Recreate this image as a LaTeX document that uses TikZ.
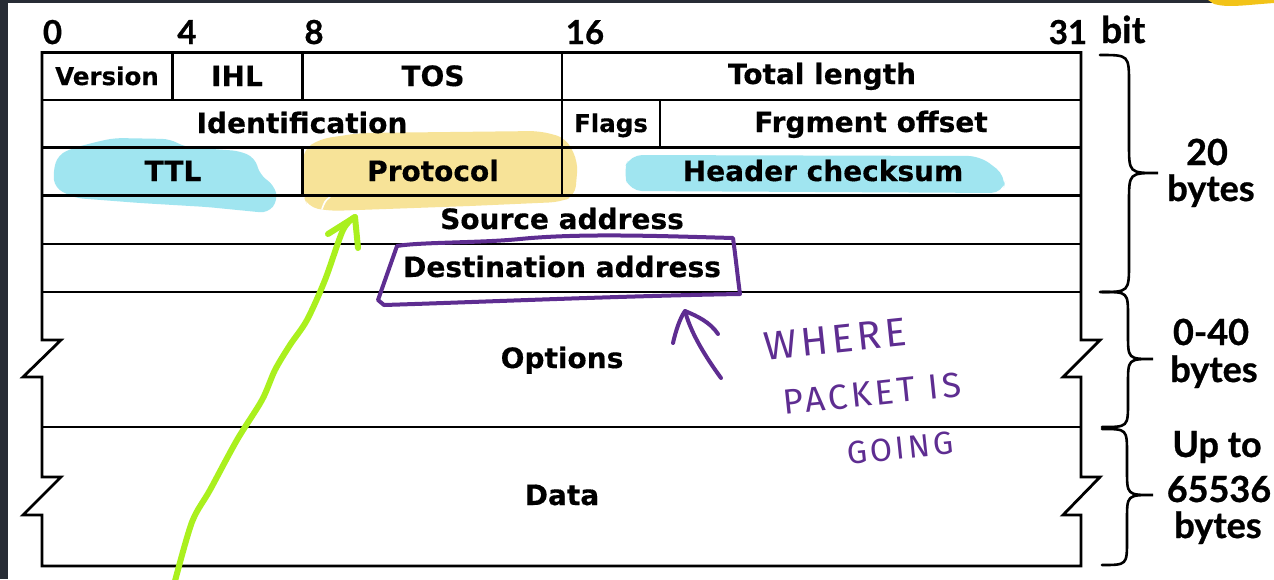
\documentclass[tikz,border=0pt]{standalone}
\usepackage{fontspec}
\setmainfont{DejaVu Sans}[BoldFeatures={FakeBold=0.4}]
\newfontfamily\latofont{Lato}[BoldFeatures={FakeBold=0.8}]
\newfontfamily\handfont{Fira Sans}[LetterSpace=10]
\usetikzlibrary{arrows.meta}

\definecolor{framedark}{HTML}{272C35}
\definecolor{hlcyan}{HTML}{A0E5F0}
\definecolor{hlyellow}{HTML}{F7E398}
\definecolor{inkpurple}{HTML}{5E2D91}
\definecolor{inkgreen}{HTML}{AAF01E}
\definecolor{tabyellow}{HTML}{F2C318}

\begin{document}
\begin{tikzpicture}[x=1pt,y=-1pt,
  rule/.style={line width=2.8pt, line join=miter},
  field/.style={font=\fontsize{28}{30}\selectfont\bfseries, anchor=base, inner sep=0pt},
  smallfield/.style={field, font=\fontsize{24.5}{28}\selectfont\bfseries},
  bitnum/.style={font=\latofont\fontsize{33}{36}\selectfont\bfseries, anchor=base, inner sep=0pt},
  sizelabel/.style={font=\latofont\fontsize{36}{40}\selectfont\bfseries, anchor=base, inner sep=0pt},
  bracepath/.style={line width=2.6pt, line cap=round},
  ink/.style={inkpurple, line width=4pt, line cap=round, line join=round},
  greenink/.style={inkgreen, line width=6pt, line cap=round, line join=round},
  hand/.style={text=inkpurple, inner sep=0pt}
]
\useasboundingbox (0,0) rectangle (1274,579);

% window frame
\fill[white] (0,0) rectangle (1274,579);
\fill[framedark] (0,0) rectangle (8,579);
\fill[framedark] (0,0) rectangle (1274,3);
\fill[tabyellow] (1208,0) -- (1274,0) -- (1274,3) .. controls (1245,5) and (1228,8) .. (1214,4) -- cycle;

% highlighter strokes
\fill[hlcyan, rounded corners=8pt]
  (53,172) -- (58,155) -- (73,148) -- (100,141) -- (115,138) -- (170,139) -- (185,147)
  -- (240,151) -- (255,158) -- (260,175) -- (274,185) -- (278,200) -- (268,213)
  -- (207,207) -- (140,203) -- (75,198) -- (55,188) -- cycle;
\fill[hlyellow, rounded corners=10pt]
  (303,150) -- (320,139) -- (360,133) -- (540,131) -- (566,138) -- (578,162)
  -- (575,196) -- (560,202) -- (470,206) -- (330,211) -- (308,207) -- (303,195) -- cycle;
\fill[hlcyan, rounded corners=12pt]
  (623,172) -- (630,155) -- (980,156) -- (1006,176) -- (1003,193) -- (630,191) -- cycle;
\draw[white, line width=1.6pt, line cap=round] (330,197) .. controls (325,201) .. (322,209);

% table grid
\draw[rule] (42,52.5) -- (1081,52.5) -- (1081,340) -- (1100,340) -- (1063,377) -- (1081,377)
  -- (1081,477) -- (1100,477) -- (1063,515) -- (1081,515) -- (1081,566) -- (42,566)
  -- (42,515) -- (23,515) -- (61,477) -- (42,477) -- (42,377) -- (23,377) -- (61,340)
  -- (42,340) -- cycle;
\foreach \r in {100,147.5,195.5,244,292,427}
  \draw[rule] (42,\r) -- (1081,\r);
\draw[rule] (172.5,52.5) -- (172.5,100);
\draw[rule] (302.5,52.5) -- (302.5,100);
\draw[rule] (562,52.5) -- (562,195.5);
\draw[rule] (660,100) -- (660,147.5);
\draw[rule] (302.5,147.5) -- (302.5,195.5);

% bit positions
\node[bitnum] (b0) at (52.5,44) {0};
\node[bitnum] (b4) at (187,44) {4};
\node[bitnum] (b8) at (314,44) {8};
\node[bitnum] (b16) at (585,44) {16};
\node[bitnum] (b31) at (1068,44) {31};
\node[bitnum, anchor=base west, font=\latofont\fontsize{37}{40}\selectfont\bfseries] (bit) at (1101,43) {bit};

% header fields
\node[smallfield] (version) at (107,85) {Version};
\node[field] (ihl) at (237,86) {IHL};
\node[field] (tos) at (433,86) {TOS};
\node[field] (total) at (822,84) {Total length};
\node[field] (ident) at (302,133) {Identification};
\node[smallfield] (flags) at (611,132) {Flags};
\node[field] (frag) at (871,132) {Frgment offset};
\node[field] (ttl) at (173,181) {TTL};
\node[field] (proto) at (433,181) {Protocol};
\node[field] (cksum) at (823,181) {Header checksum};
\node[field] (src) at (562,229) {Source address};
\node[field] (dst) at (562,277) {Destination address};
\node[field] (opts) at (562,368) {Options};
\node[field] (data) at (562,505) {Data};

% size braces
\draw[bracepath] (1100,55) .. controls (1129,55) .. (1129,84) -- (1129,144)
  .. controls (1129,173) .. (1158,173) .. controls (1129,173) .. (1129,202)
  -- (1129,263) .. controls (1129,292) .. (1100,292);
\draw[bracepath] (1102,292) .. controls (1128,292) .. (1128,317) -- (1128,334)
  .. controls (1128,359) .. (1153,359) .. controls (1128,359) .. (1128,384)
  -- (1128,402) .. controls (1128,427) .. (1102,427);
\draw[bracepath] (1102,429) .. controls (1127,429) .. (1127,454) -- (1127,470)
  .. controls (1127,495) .. (1153,495) .. controls (1127,495) .. (1127,520)
  -- (1127,540) .. controls (1127,565) .. (1102,565);

\node[sizelabel] (s20) at (1207,165) {20};
\node[sizelabel] (s20b) at (1211,201) {bytes};
\node[sizelabel] (s40) at (1211,345) {0-40};
\node[sizelabel] (s40b) at (1214,382) {bytes};
\node[sizelabel] (s64a) at (1217,457) {Up to};
\node[sizelabel] (s64n) at (1219,502) {65536};
\node[sizelabel] (s64b) at (1218,538) {bytes};

% purple annotation
\draw[ink] (384,305) -- (378,300) -- (397,246) .. controls (420,242) and (480,243) .. (520,239)
  .. controls (580,233) and (660,236) .. (733,238) .. controls (736,260) and (738,280) .. (740,294)
  .. controls (620,296) and (480,302) .. (384,305);
\coordinate (ptip) at (685,311);
\draw[ink] (721,378) .. controls (702,352) and (690,330) .. (ptip);
\draw[ink] (673,343) .. controls (676,330) and (680,318) .. (ptip)
  .. controls (697,316) and (710,322) .. (718,334);
\node[hand, font=\handfont\fontsize{35}{56}\selectfont, align=center, rotate=6]
  (note) at (872,392)
  {{\fontsize{40}{56}\selectfont WHERE}\hspace*{62pt}\\
   PACKET IS\\
   \hspace*{44pt}{\fontsize{32}{56}\selectfont GOING}};

% green annotation
\coordinate (gtip) at (355,217);
\draw[greenink] plot[smooth] coordinates {(175,581) (192,522) (210,490) (237,440) (262,400)
  (275,370) (290,345) (307,320) (325,280) (343,230) (gtip)};
\draw[greenink] (328,234) -- (gtip) -- (358,248);
\end{tikzpicture}
\end{document}
